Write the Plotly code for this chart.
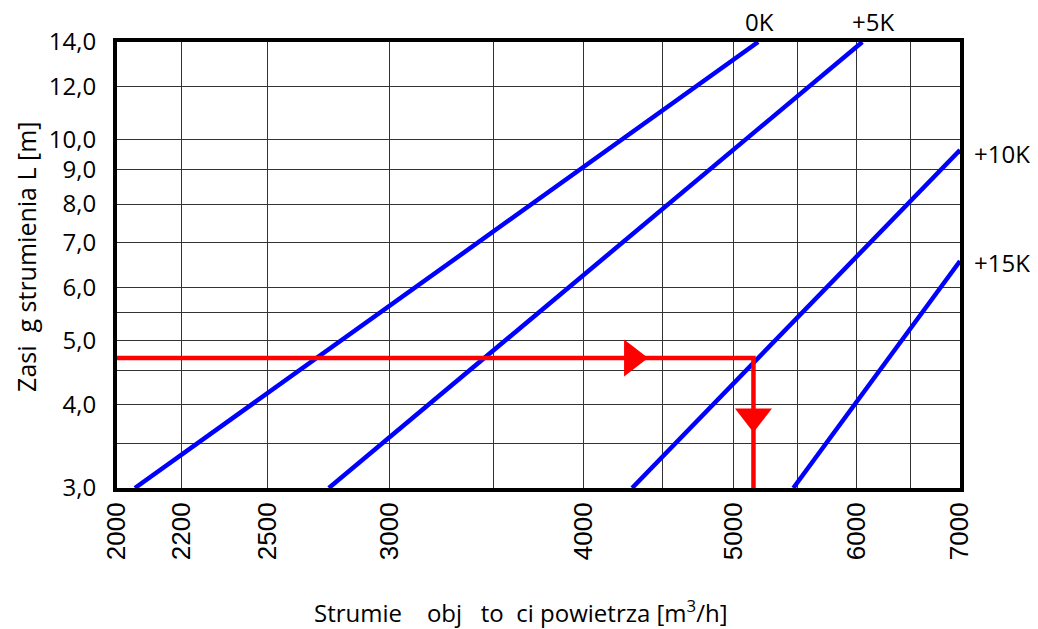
import plotly.graph_objects as go

# ---- data ----
x_ticks = [2000, 2200, 2500, 3000, 3500, 4000, 4500, 5000, 5500, 6000, 6500, 7000]
x_tick_text = ["2000", "2200", "2500", "3000", "", "4000", "", "5000", "", "6000", "", "7000"]
y_ticks = [3.0, 3.5, 4.0, 4.5, 5.0, 5.5, 6.0, 7.0, 8.0, 9.0, 10.0, 12.0, 14.0]
y_tick_text = ["3,0", "", "4,0", "", "5,0", "", "6,0", "7,0", "8,0", "9,0", "10,0", "12,0", "14,0"]

series_names = ["0K", "+5K", "+10K", "+15K"]
series_x = [[2054, 5186], [2740, 6054], [4300, 7000], [5464, 7000]]
series_y = [[3.0, 14.0], [3.0, 14.0], [3.0, 9.64], [3.0, 6.57]]

red_x = [2000, 5150, 5150]
red_y = [4.7, 4.7, 3.0]
arrow_right = (4300, 4.7)
arrow_down = (5150, 3.84)

fig = go.Figure()

for name, xs, ys in zip(series_names, series_x, series_y):
    fig.add_trace(go.Scatter(x=xs, y=ys, mode="lines", name=name,
                             line=dict(color="#0000FF", width=4.5), showlegend=False))

fig.add_trace(go.Scatter(x=red_x, y=red_y, mode="lines",
                         line=dict(color="#FF0000", width=4.5), showlegend=False))
fig.add_trace(go.Scatter(x=[arrow_right[0]], y=[arrow_right[1]], mode="markers",
                         marker=dict(symbol="triangle-right", size=32, color="#FF0000",
                                     line=dict(width=0)), showlegend=False))
fig.add_trace(go.Scatter(x=[arrow_down[0]], y=[arrow_down[1]], mode="markers",
                         marker=dict(symbol="triangle-down", size=32, color="#FF0000",
                                     line=dict(width=0)), showlegend=False))
fig.add_trace(go.Scatter(x=[x_ticks[-1]], y=[y_ticks[0]], mode="markers",
                         marker=dict(symbol="triangle-down", size=12, color="black",
                                     line=dict(width=0)), showlegend=False, cliponaxis=False))

fig.update_xaxes(type="log", range=[3.30103, 3.845098], tickvals=x_ticks, ticktext=x_tick_text,
                 tickangle=-90, showgrid=True, gridcolor="#333333", gridwidth=1,
                 showline=True, linecolor="black", linewidth=4, mirror=True,
                 ticks="", tickfont=dict(family="Liberation Sans", size=26, color="black"),
                 zeroline=False)
fig.update_yaxes(type="log", range=[0.4771213, 1.146128], tickvals=y_ticks, ticktext=y_tick_text,
                 showgrid=True, gridcolor="#333333", gridwidth=1,
                 showline=True, linecolor="black", linewidth=4, mirror=True,
                 ticks="outside", ticklen=12, tickcolor="rgba(0,0,0,0)",
                 tickfont=dict(family="Open Sans", size=24, color="black"),
                 zeroline=False)

label_font = dict(family="Open Sans", size=24, color="black")
annotations = [
    dict(text="0K", x=3.716, y=1, xref="x", yref="paper", xanchor="center", yanchor="bottom",
         yshift=2, showarrow=False, font=label_font),
    dict(text="+5K", x=3.789, y=1, xref="x", yref="paper", xanchor="center", yanchor="bottom",
         yshift=2, showarrow=False, font=label_font),
    dict(text="+10K", x=1, y=0.979, xref="paper", yref="y", xanchor="left", yanchor="middle",
         xshift=12, showarrow=False, font=label_font),
    dict(text="+15K", x=1, y=0.816, xref="paper", yref="y", xanchor="left", yanchor="middle",
         xshift=12, showarrow=False, font=label_font),
    dict(text="Strumie\u00a0\u00a0\u00a0 obj\u00a0\u00a0 to\u00a0 ci powietrza [m<sup>3</sup>/h]",
         x=0.479, y=-0.278, xref="paper", yref="paper", xanchor="center", yanchor="middle",
         showarrow=False, font=dict(family="Open Sans", size=24, color="black")),
    dict(text="Zasi\u00a0 g strumienia L [m]", x=-0.108, y=0.518, xref="paper", yref="paper",
         xanchor="center", yanchor="middle", textangle=-90, showarrow=False,
         font=dict(family="Open Sans", size=25, color="black")),
]
fig.update_layout(width=1030, height=621, margin=dict(l=109, r=78, t=34, b=141),
                  plot_bgcolor="white", paper_bgcolor="white", annotations=annotations)

fig.write_html("out.html")
